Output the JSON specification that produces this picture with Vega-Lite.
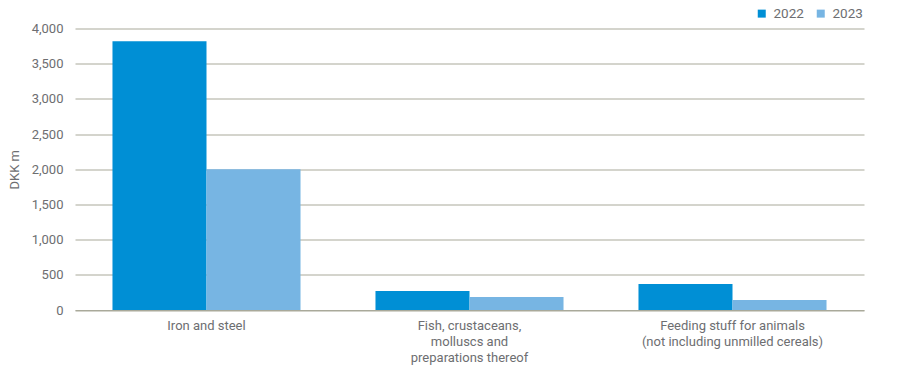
{
  "$schema": "https://vega.github.io/schema/vega-lite/v6.json",
  "width": 789,
  "height": 281.5,
  "autosize": {"type": "none"},
  "padding": {"left": 75, "top": 28.5, "right": 36, "bottom": 73},
  "background": "white",
  "config": {
    "font": "Roboto",
    "view": {"stroke": null},
    "axis": {"labelColor": "#6d6e71", "titleColor": "#6d6e71", "labelFontSize": 13, "titleFontSize": 13, "titleFontWeight": "normal"}
  },
  "data": {
    "values": [
      {"category": "Iron and steel", "year": "2022", "value": 3820},
      {"category": "Iron and steel", "year": "2023", "value": 2000},
      {"category": "Fish, crustaceans,|molluscs and|preparations thereof", "year": "2022", "value": 270},
      {"category": "Fish, crustaceans,|molluscs and|preparations thereof", "year": "2023", "value": 185},
      {"category": "Feeding stuff for animals|(not including unmilled cereals)", "year": "2022", "value": 368},
      {"category": "Feeding stuff for animals|(not including unmilled cereals)", "year": "2023", "value": 142}
    ]
  },
  "mark": {"type": "bar"},
  "encoding": {
    "x": {
      "field": "category",
      "type": "nominal",
      "sort": null,
      "scale": {"paddingInner": 0.285, "paddingOuter": 0.1425},
      "axis": {
        "title": null,
        "labelAngle": 0,
        "labelExpr": "split(datum.value, '|')",
        "labelLineHeight": 16,
        "labelPadding": 9,
        "labelLimit": 0,
        "ticks": false,
        "domain": true,
        "domainColor": "#a9a99a",
        "labelBaseline": "top"
      }
    },
    "xOffset": {"field": "year", "type": "nominal", "scale": {"paddingInner": 0, "paddingOuter": 0}},
    "y": {
      "field": "value",
      "type": "quantitative",
      "scale": {"domain": [0, 4000], "nice": false},
      "axis": {
        "title": "DKK m",
        "values": [0, 500, 1000, 1500, 2000, 2500, 3000, 3500, 4000],
        "format": ",.0f",
        "domain": false,
        "ticks": false,
        "labelPadding": 12,
        "titlePadding": 10,
        "gridColor": "#a9a99a",
        "gridWidth": 1
      }
    },
    "color": {
      "field": "year",
      "type": "nominal",
      "scale": {"domain": ["2022", "2023"], "range": ["#008fd5", "#77b5e3"]},
      "legend": {
        "title": null,
        "orient": "none",
        "legendX": 680,
        "legendY": -22,
        "direction": "horizontal",
        "symbolType": "square",
        "symbolSize": 64,
        "symbolStrokeWidth": 0,
        "labelFontSize": 13.5,
        "labelColor": "#6d6e71",
        "columnPadding": 10,
        "labelOffset": 5
      }
    }
  }
}
